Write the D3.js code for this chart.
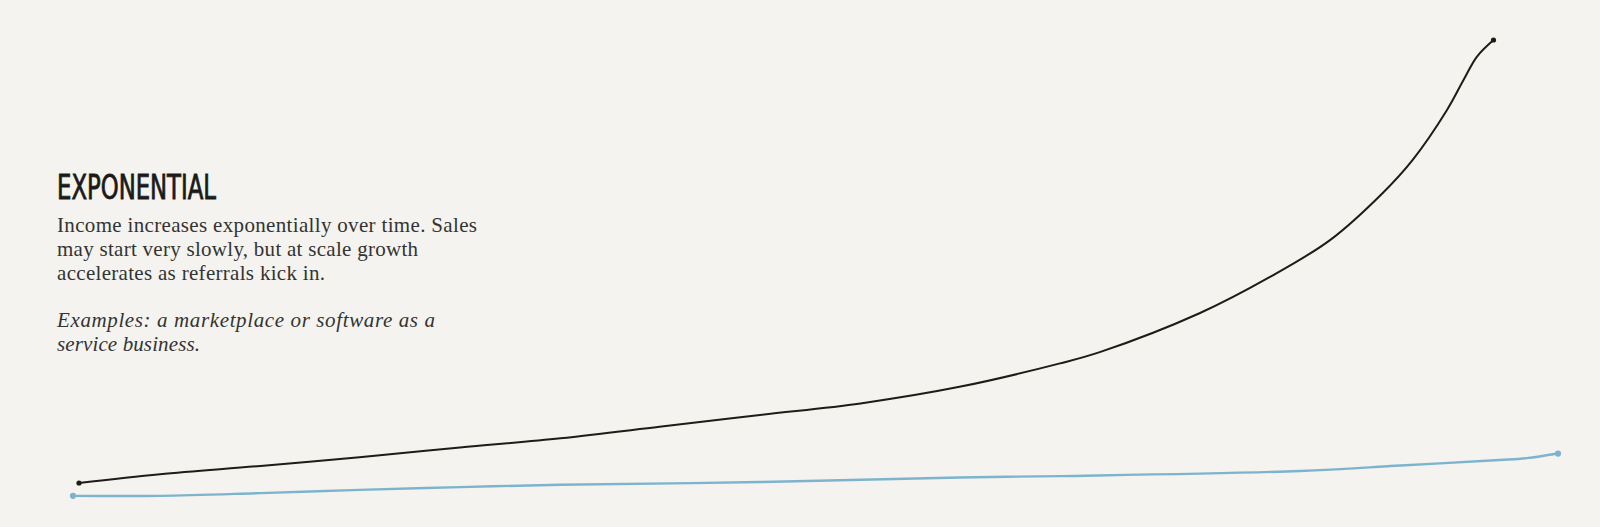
<!DOCTYPE html>
<html>
<head>
<meta charset="utf-8">
<script src="https://cdn.jsdelivr.net/npm/d3@7"></script>
<style>
    html, body { margin: 0; padding: 0; background: #f4f3ef; }
    svg { display: block; }
</style>
</head>
<body>
<svg id="chart"></svg>
<script>
// time (0-100) and income (0-100)
const timeExp = [0.4, 5.8, 12.5, 19.1, 25.8, 32.5, 39.1, 45.8, 52.5, 59.1, 65.8, 68.5, 75.1, 79.8, 83.8, 87.3, 89.3, 91.6, 92.7, 93.6, 94.7];
const incomeExp = [3.7, 5.6, 7.4, 9.3, 11.4, 13.4, 15.9, 18.5, 21.0, 24.6, 29.7, 32.2, 40.6, 48.5, 56.5, 66.7, 73.9, 84.8, 91.3, 96.4, 100];

const timeLin = [0, 5.8, 12.5, 19.1, 25.8, 32.5, 45.8, 59.1, 65.8, 81.8, 88.5, 95.1, 96.9, 99.0];
const incomeLin = [0.9, 0.9, 1.5, 2.2, 2.8, 3.3, 3.9, 4.9, 5.2, 6.3, 7.5, 8.7, 9.1, 10.1];

const title = "EXPONENTIAL";
const bodyLines = [
    "Income increases exponentially over time. Sales",
    "may start very slowly, but at scale growth",
    "accelerates as referrals kick in."
];
const exampleLines = [
    "Examples: a marketplace or software as a",
    "service business."
];

const width = 1600;
const height = 527;

const svg = d3.select("#chart")
    .attr("width", width)
    .attr("height", height);

svg.append("rect")
    .attr("width", width)
    .attr("height", height)
    .attr("fill", "#f4f3ef");

const x = d3.scaleLinear().domain([0, 100]).range([73, 1573]);
const y = d3.scaleLinear().domain([0, 100]).range([500, 40]);

const line = d3.line()
    .x(d => x(d[0]))
    .y(d => y(d[1]))
    .curve(d3.curveCatmullRom.alpha(0.5));

const series = [
    { t: timeLin, v: incomeLin, color: "#7db4cd", w: 2.4 },
    { t: timeExp, v: incomeExp, color: "#1f1b15", w: 2 }
];

series.forEach(s => {
    const pts = s.t.map((t, i) => [t, s.v[i]]);
    svg.append("path")
        .attr("d", line(pts))
        .attr("fill", "none")
        .attr("stroke", s.color)
        .attr("stroke-width", s.w)
        .attr("stroke-linecap", "round")
        .attr("stroke-linejoin", "round");

    // pen blobs at both ends
    svg.selectAll(null)
        .data([pts[0], pts[pts.length - 1]])
        .enter()
        .append("circle")
        .attr("cx", d => x(d[0]))
        .attr("cy", d => y(d[1]))
        .attr("r", s.w * 1.3)
        .attr("fill", s.color);
});

// text block
const textX = 57;

svg.append("text")
    .attr("x", textX)
    .attr("y", 199)
    .attr("font-family", "'Liberation Sans Narrow', 'DejaVu Sans Condensed', 'Roboto', sans-serif")
    .attr("font-size", 33)
    .attr("fill", "#1a1a1a")
    .attr("stroke", "#1a1a1a")
    .attr("stroke-width", 0.8)
    .attr("textLength", 159)
    .attr("lengthAdjust", "spacingAndGlyphs")
    .text(title);

const bodyWidths = [420, 361, 268];
svg.selectAll("text.body")
    .data(bodyLines)
    .enter()
    .append("text")
    .attr("class", "body")
    .attr("x", textX)
    .attr("y", (d, i) => 232 + i * 24)
    .attr("font-family", "'Liberation Serif', 'DejaVu Serif', serif")
    .attr("font-size", 21)
    .attr("fill", "#333")
    .attr("textLength", (d, i) => bodyWidths[i])
    .attr("lengthAdjust", "spacing")
    .text(d => d);

const exampleWidths = [378, 143];
svg.selectAll("text.example")
    .data(exampleLines)
    .enter()
    .append("text")
    .attr("class", "example")
    .attr("x", textX)
    .attr("y", (d, i) => 327 + i * 24)
    .attr("font-family", "'Liberation Serif', 'DejaVu Serif', serif")
    .attr("font-style", "italic")
    .attr("font-size", 21)
    .attr("fill", "#333")
    .attr("textLength", (d, i) => exampleWidths[i])
    .attr("lengthAdjust", "spacing")
    .text(d => d);
</script>
</body>
</html>
